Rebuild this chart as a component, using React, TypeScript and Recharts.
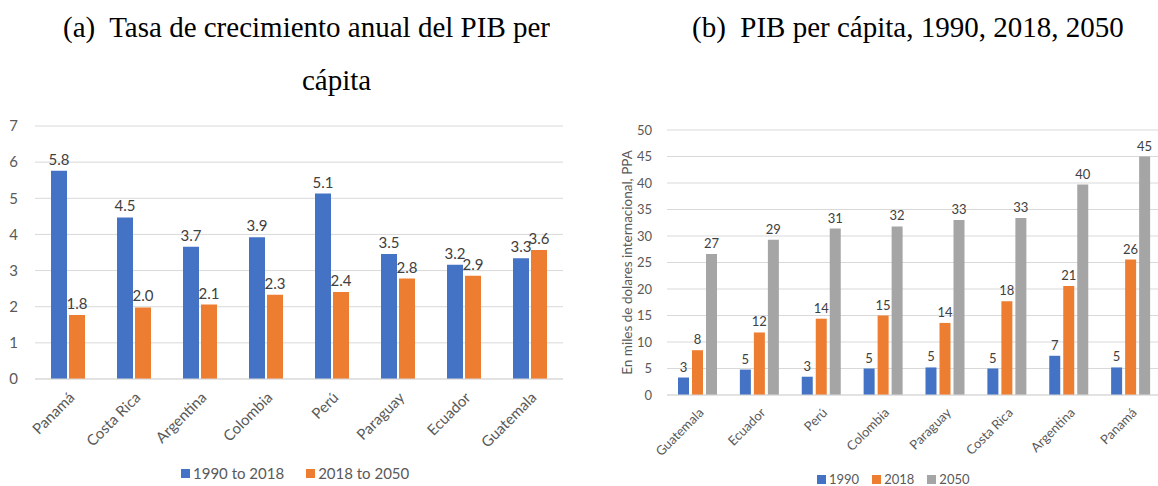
import React from "react";
import { Bar, BarChart, CartesianGrid, LabelList, Legend, XAxis, YAxis } from "recharts";

// (a) annual growth rate of GDP per capita
const countriesA = ["Panamá", "Costa Rica", "Argentina", "Colombia", "Perú", "Paraguay", "Ecuador", "Guatemala"];
const growth1990to2018 = [5.76, 4.47, 3.66, 3.92, 5.13, 3.46, 3.16, 3.34];
const growth2018to2050 = [1.77, 1.98, 2.06, 2.33, 2.41, 2.78, 2.86, 3.57];
const ticksA = [0, 1, 2, 3, 4, 5, 6, 7];

// (b) GDP per capita, thousands of intl. dollars PPP
const countriesB = ["Guatemala", "Ecuador", "Perú", "Colombia", "Paraguay", "Costa Rica", "Argentina", "Panamá"];
const gdp1990 = [3.3, 4.8, 3.45, 5.0, 5.2, 5.0, 7.4, 5.2];
const gdp2018 = [8.45, 11.8, 14.4, 15.0, 13.6, 17.7, 20.55, 25.55];
const gdp2050 = [26.6, 29.3, 31.4, 31.8, 33.0, 33.4, 39.7, 45.0];
const ticksB = [0, 5, 10, 15, 20, 25, 30, 35, 40, 45, 50];

const BLUE = "#4472C4";
const ORANGE = "#ED7D31";
const GRAY = "#A5A5A5";
const FONT = "Lato, sans-serif";
const TICK = "#595959";
const LABEL = "#404040";
const GRID = "#d9d9d9";

const dataA = countriesA.map((name, i) => ({
  name,
  a: growth1990to2018[i],
  b: growth2018to2050[i],
}));

const dataB = countriesB.map((name, i) => ({
  name,
  y1990: gdp1990[i],
  y2018: gdp2018[i],
  y2050: gdp2050[i],
}));

function SwatchLegend({ payload, fontSize, gap }: { payload?: any[]; fontSize: number; gap: number }) {
  return (
    <div
      style={{
        display: "flex",
        gap,
        fontFamily: FONT,
        fontSize,
        color: TICK,
        whiteSpace: "nowrap",
        lineHeight: `${fontSize + 2}px`,
      }}
    >
      {(payload ?? []).map((p) => (
        <span key={p.value} style={{ display: "flex", alignItems: "center" }}>
          <span style={{ width: 9, height: 9, background: p.color, marginRight: 3, display: "inline-block" }} />
          {p.value}
        </span>
      ))}
    </div>
  );
}

export default function App() {
  return (
    <div style={{ position: "absolute", left: 0, top: 0, width: 1158, height: 486, background: "#fff", overflow: "hidden" }}>
      <svg width={1158} height={100} style={{ position: "absolute", left: 0, top: 0 }}>
        <g fontFamily="'Liberation Serif', 'Times New Roman', serif" fontSize={29} fill="#000">
          <text x={63} y={37} xmlSpace="preserve" style={{ whiteSpace: "pre" }}>
            {"(a)  Tasa de crecimiento anual del PIB per"}
          </text>
          <text x={302} y={90}>cápita</text>
          <text x={692} y={37} xmlSpace="preserve" style={{ whiteSpace: "pre" }}>
            {"(b)  PIB per cápita, 1990, 2018, 2050"}
          </text>
        </g>
      </svg>

      <div style={{ position: "absolute", left: 0, top: 0 }}>
        <BarChart
          width={580}
          height={486}
          data={dataA}
          margin={{ top: 126, right: 17, bottom: 47, left: 5 }}
          barSize={16}
          barGap={2}
        >
          <CartesianGrid vertical={false} stroke={GRID} />
          <XAxis
            dataKey="name"
            interval={0}
            angle={-45}
            textAnchor="end"
            height={60}
            tickSize={0}
            tickMargin={12}
            axisLine={{ stroke: GRID }}
            tickLine={false}
            tick={{ fill: TICK, fontSize: 15, fontFamily: FONT }}
          />
          <YAxis
            domain={[0, 7]}
            ticks={ticksA}
            width={30}
            tickSize={0}
            tickMargin={17}
            axisLine={false}
            tickLine={false}
            tick={{ fill: TICK, fontSize: 15, fontFamily: FONT }}
          />
          <Legend
            layout="horizontal"
            verticalAlign="middle"
            align="center"
            wrapperStyle={{ top: 465, left: 181, width: "auto" }}
            content={(props: any) => <SwatchLegend payload={props.payload} fontSize={15} gap={22} />}
          />
          <Bar dataKey="a" name="1990 to 2018" fill={BLUE} isAnimationActive={false}>
            <LabelList dataKey="a" position="top" offset={6} formatter={(v: any) => Number(v).toFixed(1)} fill={LABEL} fontSize={15} fontFamily={FONT} />
          </Bar>
          <Bar dataKey="b" name="2018 to 2050" fill={ORANGE} isAnimationActive={false}>
            <LabelList dataKey="b" position="top" offset={6} formatter={(v: any) => Number(v).toFixed(1)} fill={LABEL} fontSize={15} fontFamily={FONT} />
          </Bar>
        </BarChart>
      </div>

      <div style={{ position: "absolute", left: 600, top: 0, width: 558, height: 486, overflow: "hidden" }}>
        <BarChart
          width={562}
          height={486}
          data={dataB}
          margin={{ top: 130, right: 0, bottom: 31, left: 0 }}
          barSize={11}
          barGap={3}
        >
          <CartesianGrid vertical={false} stroke={GRID} />
          <XAxis
            dataKey="name"
            interval={0}
            angle={-45}
            textAnchor="end"
            height={60}
            tickSize={0}
            tickMargin={12}
            axisLine={{ stroke: GRID }}
            tickLine={false}
            tick={{ fill: TICK, fontSize: 13, fontFamily: FONT }}
          />
          <YAxis
            domain={[0, 50]}
            ticks={ticksB}
            width={67}
            tickSize={0}
            tickMargin={15}
            axisLine={false}
            tickLine={false}
            tick={{ fill: TICK, fontSize: 13, fontFamily: FONT }}
            label={{
              value: "En miles de dolares internacional, PPA",
              angle: -90,
              position: "center",
              dx: -6,
              style: { fill: TICK, fontSize: 13.5, fontFamily: FONT, textAnchor: "middle" },
            }}
          />
          <Legend
            layout="horizontal"
            verticalAlign="middle"
            align="center"
            wrapperStyle={{ top: 472, left: 217, width: "auto" }}
            content={(props: any) => <SwatchLegend payload={props.payload} fontSize={13} gap={13} />}
          />
          <Bar dataKey="y1990" name="1990" fill={BLUE} isAnimationActive={false}>
            <LabelList dataKey="y1990" position="top" offset={6} formatter={(v: any) => Math.round(Number(v))} fill={LABEL} fontSize={13} fontFamily={FONT} />
          </Bar>
          <Bar dataKey="y2018" name="2018" fill={ORANGE} isAnimationActive={false}>
            <LabelList dataKey="y2018" position="top" offset={6} formatter={(v: any) => Math.round(Number(v))} fill={LABEL} fontSize={13} fontFamily={FONT} />
          </Bar>
          <Bar dataKey="y2050" name="2050" fill={GRAY} isAnimationActive={false}>
            <LabelList dataKey="y2050" position="top" offset={6} formatter={(v: any) => Math.round(Number(v))} fill={LABEL} fontSize={13} fontFamily={FONT} />
          </Bar>
        </BarChart>
      </div>
    </div>
  );
}
